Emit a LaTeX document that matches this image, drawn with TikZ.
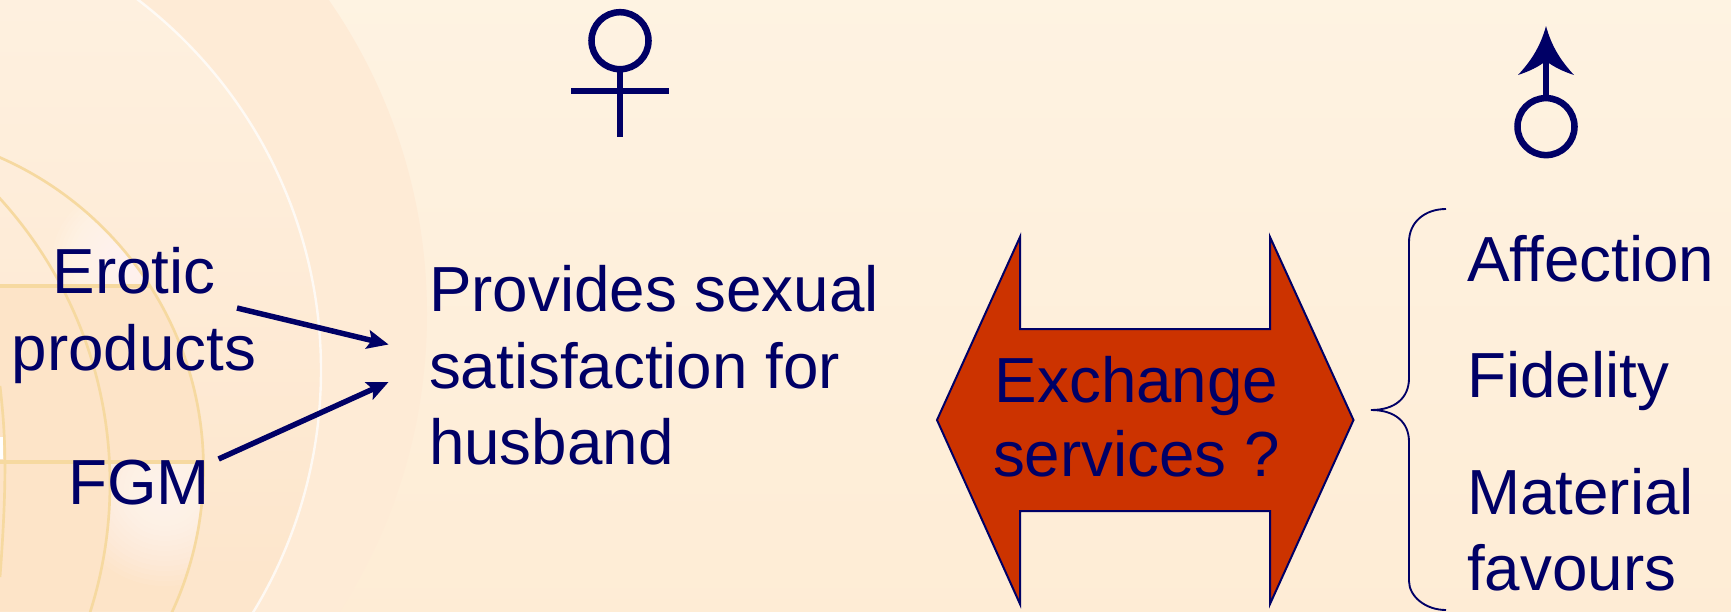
\documentclass[tikz,border=0pt]{standalone}
\usepackage{fontspec}
\setmainfont{Liberation Sans}
\usetikzlibrary{arrows.meta}
\definecolor{navy}{HTML}{000066}
\definecolor{rust}{HTML}{CC3300}
\definecolor{bgtop}{HTML}{FFF6E8}
\definecolor{bgbot}{HTML}{FDE9CF}
\definecolor{ringtan}{HTML}{F6D9A0}
\definecolor{discmid}{HTML}{FEEBD6}
\definecolor{discout}{HTML}{FCDFBD}
\definecolor{bandtan}{HTML}{FDE4C8}
\definecolor{insidetop}{HTML}{FFF6E8}
\definecolor{insidebot}{HTML}{FDE6CC}
\definecolor{insidemid}{HTML}{FEECD8}
\pgfdeclareradialshading{outerdisc}{\pgfpointorigin}{color(0bp)=(discmid);color(40bp)=(discmid);color(50bp)=(discout)}
\pgfdeclareverticalshading{bgshade}{100bp}{color(0bp)=(bgbot);color(100bp)=(bgtop)}
\pgfdeclareverticalshading{insideshade}{100bp}{color(0bp)=(insidebot);color(28bp)=(insidebot);color(55bp)=(insidemid);color(100bp)=(insidetop)}
\tikzset{
  label text/.style={font=\fontsize{47.8}{57}\selectfont,text=navy,inner sep=0pt,align=left},
  centre text/.style={label text,align=center},
  push arrow/.style={draw=navy,line width=4.1pt,-{Stealth[length=16pt,width=14pt,inset=3pt]}},
  sign line/.style={draw=navy,line width=4.9pt},
  ring line/.style={draw=ringtan,line width=2pt},
  glow/.style={fill=white,fill opacity=.07},
}
\begin{document}
\begin{tikzpicture}[x=.75pt,y=-.75pt]
\useasboundingbox (0,0) rectangle (1731,611);
\shade[shading=bgshade] (0,0) rectangle (1731,611);
\begin{scope}
\clip (0,0) rectangle (1731,611);
\shade[shading=outerdisc] (-124,314) circle (551);
\begin{scope}
\clip (-145,370) circle (466);
\shade[shading=insideshade] (-200,0) rectangle (400,611);
\end{scope}
\begin{scope}
\clip (-136.5,469) circle (340);
\fill[bandtan] (0,286) rectangle (260,611);
\begin{scope}
\clip (0,0) rectangle (260,286);
\foreach \r in {6,10,...,74}{\fill[glow] (126,262) circle (\r);}
\end{scope}
\begin{scope}
\clip (0,462) rectangle (260,611);
\foreach \r in {6,11,...,100}{\fill[glow] (165,490) circle (\r);}
\end{scope}
\begin{scope}
\clip (-314,483.5) circle (424);
\shade[shading=insideshade] (-200,0) rectangle (400,611);
\fill[bandtan] (0,286) rectangle (260,611);
\end{scope}
\draw[ringtan,line width=2.4pt] (0,286) -- (160,286);
\draw[ringtan,line width=2.4pt] (0,462) -- (210,462);
\end{scope}
\draw[draw=white,line width=1.8pt,opacity=.75] (-145,370) circle (466);
\draw[ring line] (-136.5,469) circle (340);
\draw[ring line] (-314,483.5) circle (424);
\draw[ring line] (0,386) .. controls (5,430) and (8,470) .. (0,577);
\fill[white] (-3,437) rectangle (3,459);
\end{scope}
% female sign
\coordinate (femaletop) at (620,69);
\coordinate (femalebottom) at (620,137);
\coordinate (femaleleft) at (571,91);
\coordinate (femaleright) at (669,91);
\draw[sign line] (620,40.7) circle (28.5);
\draw[sign line] (femaletop) -- (femalebottom);
\draw[sign line] (femaleleft) -- (femaleright);
% male sign
\coordinate (malestem) at (1546,97);
\coordinate (malenotch) at (1546,60);
\draw[sign line] (1546,126.6) circle (28.5);
\draw[sign line] (malestem) -- (malenotch);
\fill[navy] (1546,26) .. controls (1540,48) and (1530,62) .. (1518,75)
  .. controls (1530,71) and (1538,67) .. (1546,61)
  .. controls (1554,67) and (1562,71) .. (1574,75)
  .. controls (1562,62) and (1552,48) .. (1546,26) -- cycle;
% double arrow
\draw[fill=rust,draw=navy,line width=1.5pt] (937,420) -- (1020,237) -- (1020,329) -- (1270,329) -- (1270,237) -- (1353.5,420) -- (1270,604) -- (1270,511) -- (1020,511) -- (1020,604) -- cycle;
% brace
\draw[navy,line width=1.4pt] (1446,209) .. controls (1425,209) and (1409,222) .. (1409,242) -- (1409,378) .. controls (1409,398) and (1395,410) .. (1371,410) .. controls (1395,410) and (1409,422) .. (1409,442) -- (1409,581) .. controls (1409,596) and (1425,610) .. (1446,610);
% texts
\node[centre text,anchor=center] (erotic) at (134,315.5) {Erotic\\[1pt]products};
\node[centre text,anchor=base] (fgm) at (139,504) {FGM};
\node[label text,anchor=center] (provides) at (654,365.5) {Provides sexual\\[.5pt]satisfaction for\\[.5pt]husband};
\node[centre text,anchor=center,font=\fontsize{47.8}{55.5}\selectfont] (exchange) at (1136.5,417) {Exchange\\services ?};
\node[label text,anchor=base west] (affection) at (1467,281) {Affection};
\node[label text,anchor=base west] (fidelity) at (1467,397) {Fidelity};
\node[label text,anchor=center] (material) at (1580.5,530) {Material\\favours};
% arrows
\coordinate (eroticend) at (388.6,344.5);
\coordinate (fgmend) at (388.6,382);
\coordinate (eroticstart) at (237,308);
\coordinate (fgmstart) at (218.6,459);
\draw[push arrow] (eroticstart) -- (eroticend);
\draw[push arrow] (fgmstart) -- (fgmend);
\end{tikzpicture}
\end{document}
